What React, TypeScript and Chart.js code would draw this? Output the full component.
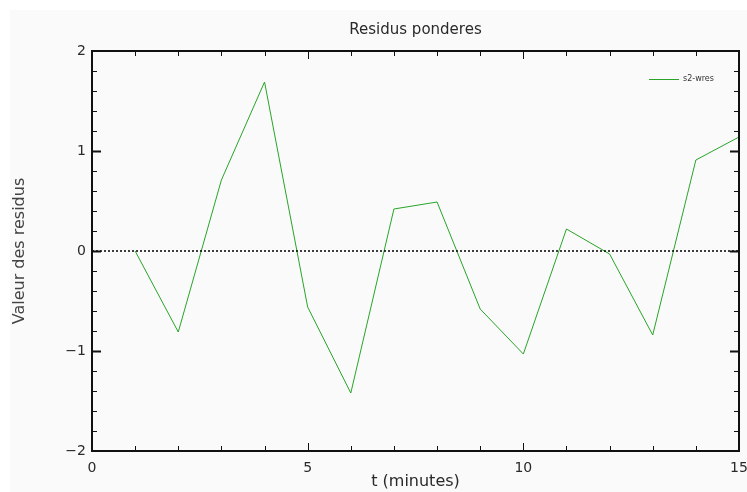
import React, { useEffect, useRef } from 'react';
import { Chart, registerables } from 'chart.js';

Chart.register(...registerables);

const chartTitle = 'Residus ponderes';
const xAxisTitle = 't (minutes)';
const yAxisTitle = 'Valeur des residus';
const seriesLabel = 's2-wres';

const tMinutes = [1, 2, 3, 4, 5, 6, 7, 8, 9, 10, 11, 12, 13, 14, 15];
const residus = [0, -0.81, 0.71, 1.69, -0.56, -1.42, 0.42, 0.49, -0.58, -1.03, 0.22, -0.03, -0.84, 0.91, 1.14];

const xRange = [0, 15];
const yRange = [-2, 2];
const xMajorStep = 5;
const xMinorStep = 1;
const yMajorStep = 1;
const yMinorStep = 0.2;

const FONT = "'DejaVu Sans', sans-serif";
const TEXT = '#2a2a2a';
const GREEN = 'rgb(40,165,40)';

const framePlugin = {
  id: 'frame',
  beforeDraw(chart: any) {
    const { ctx, width, height } = chart;
    ctx.save();
    ctx.fillStyle = '#ffffff';
    ctx.fillRect(0, 0, width, height);
    ctx.fillStyle = '#fafafa';
    ctx.fillRect(10, 10, width - 10, height - 10);
    ctx.restore();
  },
  afterDraw(chart: any) {
    const { ctx, chartArea } = chart;
    const xs = chart.scales.x;
    const ys = chart.scales.y;
    const { left, right, top, bottom } = chartArea;
    ctx.save();
    ctx.strokeStyle = '#111';
    ctx.lineWidth = 2;
    ctx.strokeRect(left, top, right - left, bottom - top);
    ctx.lineWidth = 1;
    const nx = Math.round((xRange[1] - xRange[0]) / xMinorStep);
    for (let i = 1; i < nx; i++) {
      const v = xRange[0] + i * xMinorStep;
      const major = Math.abs(v / xMajorStep - Math.round(v / xMajorStep)) < 1e-6;
      const len = major ? 8 : 5;
      const px = Math.round(xs.getPixelForValue(v)) + 0.5;
      ctx.beginPath();
      ctx.moveTo(px, bottom);
      ctx.lineTo(px, bottom - len);
      ctx.moveTo(px, top);
      ctx.lineTo(px, top + len);
      ctx.stroke();
    }
    const ny = Math.round((yRange[1] - yRange[0]) / yMinorStep);
    for (let i = 1; i < ny; i++) {
      const v = yRange[0] + i * yMinorStep;
      const major = Math.abs(v / yMajorStep - Math.round(v / yMajorStep)) < 1e-6;
      const len = major ? 9 : 5;
      const py = Math.round(ys.getPixelForValue(v)) + 0.5;
      ctx.lineWidth = major ? 2 : 1;
      ctx.beginPath();
      ctx.moveTo(left, py);
      ctx.lineTo(left + len, py);
      ctx.moveTo(right, py);
      ctx.lineTo(right - len, py);
      ctx.stroke();
    }
    ctx.fillStyle = TEXT;
    ctx.font = `15px ${FONT}`;
    ctx.textAlign = 'center';
    ctx.textBaseline = 'middle';
    ctx.fillText(chartTitle, (left + right) / 2, 30);
    ctx.strokeStyle = GREEN;
    ctx.lineWidth = 1;
    ctx.beginPath();
    ctx.moveTo(649, 79.5);
    ctx.lineTo(679, 79.5);
    ctx.stroke();
    ctx.fillStyle = '#333';
    ctx.font = `8px ${FONT}`;
    ctx.textAlign = 'left';
    ctx.fillText(seriesLabel, 683, 79);
    ctx.restore();
  },
};

export default function App() {
  const ref = useRef<HTMLCanvasElement | null>(null);
  useEffect(() => {
    document.body.style.margin = '0';
    const canvas = ref.current;
    if (!canvas) return;
    const chart = new Chart(canvas, {
      type: 'line',
      data: {
        datasets: [
          {
            label: 'zero',
            data: [
              { x: xRange[0], y: 0 },
              { x: xRange[1], y: 0 },
            ],
            borderColor: '#000',
            borderWidth: 1.5,
            borderDash: [2, 2],
            pointRadius: 0,
          },
          {
            label: seriesLabel,
            data: tMinutes.map((t, i) => ({ x: t, y: residus[i] })),
            borderColor: GREEN,
            borderWidth: 1,
            pointRadius: 0,
            tension: 0,
          },
        ],
      },
      options: {
        responsive: false,
        animation: false,
        devicePixelRatio: 1,
        layout: { padding: { left: 0, top: 51, right: 8, bottom: 0 } },
        plugins: {
          legend: { display: false },
          title: { display: false },
          tooltip: { enabled: false },
        },
        scales: {
          x: {
            type: 'linear',
            min: xRange[0],
            max: xRange[1],
            grid: { display: false, drawTicks: false },
            border: { display: false },
            ticks: {
              stepSize: xMajorStep,
              maxRotation: 0,
              padding: 9,
              color: TEXT,
              font: { family: FONT, size: 14 },
            },
            title: {
              display: true,
              text: xAxisTitle,
              color: TEXT,
              font: { family: FONT, size: 16 },
              padding: { top: 0, bottom: 0.5 },
            },
            afterFit(s: any) {
              s.height = 41;
              s.paddingLeft = 0;
              s.paddingRight = 0;
            },
          },
          y: {
            type: 'linear',
            min: yRange[0],
            max: yRange[1],
            grid: { display: false, drawTicks: false },
            border: { display: false },
            ticks: {
              stepSize: yMajorStep,
              padding: 6,
              color: TEXT,
              font: { family: FONT, size: 14 },
              callback: (v: any) => (Number(v) < 0 ? '\u2212' + Math.abs(Number(v)) : String(v)),
            },
            title: {
              display: true,
              text: yAxisTitle,
              color: '#444',
              font: { family: FONT, size: 16 },
              padding: { top: 10.5, bottom: 0 },
            },
            afterFit(s: any) {
              s.width = 92;
              s.paddingTop = 0;
              s.paddingBottom = 0;
            },
          },
        },
      },
      plugins: [framePlugin],
    });
    return () => chart.destroy();
  }, []);
  return <canvas ref={ref} width={747} height={492} style={{ display: 'block' }} />;
}
